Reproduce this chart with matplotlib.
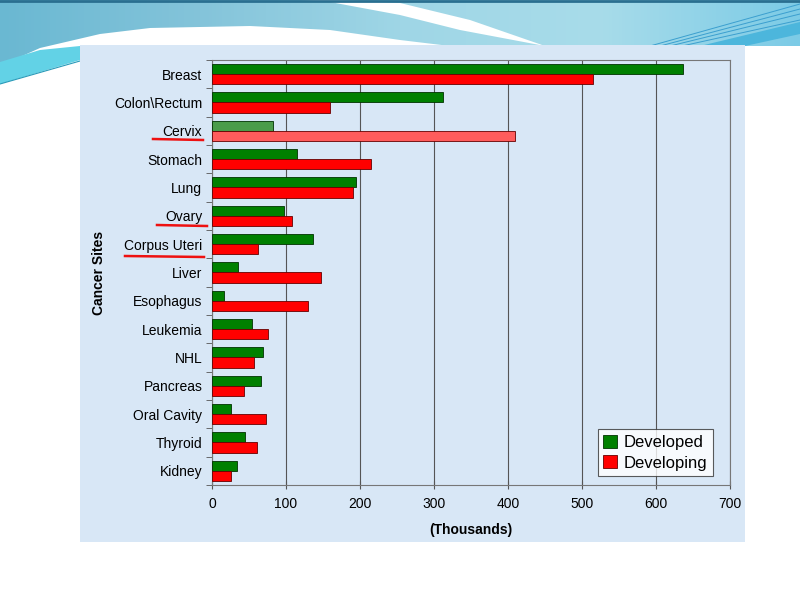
import matplotlib.pyplot as plt
import numpy as np
from matplotlib.patches import Rectangle, Polygon
from matplotlib.colors import LinearSegmentedColormap

plt.rcParams['font.family'] = ['Liberation Sans', 'DejaVu Sans']

# data (thousands of new cases)
sites = ["Breast", "Colon\\Rectum", "Cervix", "Stomach", "Lung", "Ovary",
         "Corpus Uteri", "Liver", "Esophagus", "Leukemia", "NHL", "Pancreas",
         "Oral Cavity", "Thyroid", "Kidney"]
developed = [636, 312, 82, 115, 195, 97, 136, 35, 16, 54, 69, 66, 26, 45, 34]
developing = [515, 159, 409, 215, 191, 108, 62, 147, 130, 76, 57, 43, 73, 61, 26]
xticks = [0, 100, 200, 300, 400, 500, 600, 700]

fig = plt.figure(figsize=(8, 6), dpi=100)
fig.patch.set_facecolor("white")

# slide header decoration, drawn in pixel coords
bg = fig.add_axes([0, 0, 1, 1])
bg.set_xlim(0, 800)
bg.set_ylim(600, 0)
bg.axis("off")
grad = np.linspace(0, 1, 256).reshape(1, -1)
cm = LinearSegmentedColormap.from_list("hdr", ["#6ab8d2", "#84c4da", "#9fd6e6", "#a8dcea", "#7ccbe6"])
im = bg.imshow(grad, cmap=cm, extent=[0, 800, 90, 0], aspect="auto", zorder=0)
# lower edge of the blue header
edge = [[0, 66], [40, 48], [100, 34], [150, 28], [250, 26], [330, 30], [400, 40], [450, 46],
        [800, 46], [800, 0], [0, 0]]
clip = Polygon(edge, closed=True, transform=bg.transData)
im.set_clip_path(clip)
# white swoosh
bg.add_patch(Polygon([[340, 0], [400, 3], [470, 20], [545, 46], [460, 30], [400, 15], [330, 2],
                      [300, 0]], closed=True, fc="white", ec="none", zorder=1))
# cyan wedge at lower left
bg.add_patch(Polygon([[0, 62], [40, 50], [80, 46], [80, 60], [0, 84]], closed=True,
                     fc="#62d2e6", ec="none", zorder=1))
bg.plot([0, 80], [84, 61], color="#2a9ab8", lw=0.8, zorder=2)
# thin lines at the right
for off in [0, 5, 10, 16]:
    bg.plot([650 + off * 2, 800], [46, 4 + off], color="#3b9fcf", lw=0.7, zorder=2)
bg.add_patch(Polygon([[700, 46], [800, 22], [800, 34], [745, 46]], closed=True,
                     fc="#4cb6dc", ec="none", zorder=1))
bg.plot([0, 800], [1, 1], color="#2a6f90", lw=2, zorder=2)

# light blue chart panel
bg.add_patch(Rectangle((80, 45), 665, 497, fc="#d8e7f6", ec="none", zorder=3))

ax = fig.add_axes([0.265, 0.1917, 0.6475, 0.7083])
ax.set_facecolor("none")

y = np.arange(len(sites))
h = 0.36
g = ax.barh(y - h / 2, developed, height=h, color="#008000", edgecolor="#003300", lw=0.6,
            label="Developed", zorder=3)
r = ax.barh(y + h / 2, developing, height=h, color="#ff0000", edgecolor="#660000", lw=0.6,
            label="Developing", zorder=3)
# cervix bars are shaded lighter
i = sites.index("Cervix")
g[i].set_facecolor("#4a9c4a")
r[i].set_facecolor("#ff5c5c")

ax.set_ylim(len(sites) - 0.5, -0.5)
ax.set_xlim(0, 700)
ax.set_xticks(xticks)
ax.tick_params(axis="x", direction="inout", length=6, color="#555555", labelsize=10, pad=6)
ax.set_yticks(y)
ax.set_yticklabels(sites, fontsize=10)
ax.tick_params(axis="y", length=0, pad=7)
ax.set_yticks(np.arange(len(sites) + 1) - 0.5, minor=True)
ax.tick_params(axis="y", which="minor", length=4, color="#555555")
ax.grid(axis="x", color="#555555", lw=0.8, zorder=0)
for s in ax.spines.values():
    s.set_color("#777777")
    s.set_linewidth(0.8)

ax.set_xlabel("(Thousands)", fontsize=10, fontweight="bold", labelpad=8)
ax.set_ylabel("Cancer Sites", fontsize=10, fontweight="bold", labelpad=6)

leg = ax.legend(loc="lower right", bbox_to_anchor=(0.967, 0.02), fontsize=12, frameon=True,
                fancybox=False, handlelength=0.8, handleheight=0.8, handletextpad=0.4,
                borderpad=0.35, labelspacing=0.3, borderaxespad=0)
leg.get_frame().set_edgecolor("#333333")
leg.get_frame().set_linewidth(0.8)

# red underlines on selected sites
for x0, x1, yy in [(153, 203, 139), (157, 207, 225), (125, 204, 256)]:
    bg.plot([x0, x1], [yy, yy + 1], color="#ee1111", lw=1.8, zorder=5)

fig.savefig("out.png", dpi=100)
